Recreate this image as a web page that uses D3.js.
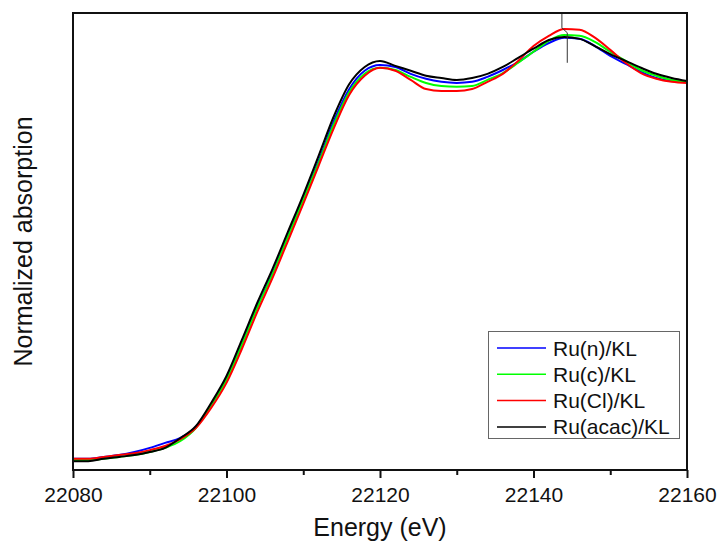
<!DOCTYPE html>
<html>
<head>
<meta charset="utf-8">
<script src="https://cdn.jsdelivr.net/npm/d3@7"></script>
<style>
    body { margin: 0; background: #fff; }
    svg { font-family: Arial, "Liberation Sans", sans-serif; }
</style>
</head>
<body>
<script>
//energy grid (eV)
var energies = [22080, 22082, 22084, 22086, 22088, 22090, 22092, 22094, 22096, 22098,
    22100, 22102, 22104, 22106, 22108, 22110, 22112, 22114, 22116, 22118,
    22120, 22122, 22124, 22126, 22128, 22130, 22132, 22134, 22136, 22138,
    22140, 22142, 22144, 22146, 22148, 22150, 22152, 22154, 22156, 22158, 22160];

//normalized absorption for each sample
var ruN = [0.003, 0.003, 0.008, 0.013, 0.021, 0.032, 0.045, 0.058, 0.087, 0.145,
    0.213, 0.305, 0.403, 0.492, 0.589, 0.687, 0.787, 0.892, 0.976, 1.024,
    1.039, 1.034, 1.016, 1.003, 0.995, 0.992, 0.995, 1.008, 1.026, 1.047,
    1.074, 1.097, 1.111, 1.108, 1.089, 1.063, 1.042, 1.021, 1.005, 0.997, 0.995];
var ruC = [0.000, 0.000, 0.003, 0.008, 0.013, 0.021, 0.032, 0.050, 0.084, 0.145,
    0.211, 0.303, 0.400, 0.489, 0.587, 0.684, 0.782, 0.884, 0.968, 1.016,
    1.032, 1.026, 1.008, 0.992, 0.984, 0.982, 0.984, 1.000, 1.018, 1.045,
    1.074, 1.103, 1.118, 1.116, 1.100, 1.074, 1.050, 1.026, 1.011, 1.000, 0.995];
var ruCl = [0.003, 0.003, 0.008, 0.013, 0.018, 0.026, 0.037, 0.055, 0.084, 0.137,
    0.203, 0.292, 0.389, 0.479, 0.576, 0.674, 0.774, 0.874, 0.961, 1.011,
    1.032, 1.024, 1.000, 0.976, 0.971, 0.971, 0.976, 0.995, 1.016, 1.050,
    1.089, 1.116, 1.134, 1.132, 1.111, 1.079, 1.045, 1.018, 1.003, 0.995, 0.992];
var ruAcac = [-0.003, -0.003, 0.003, 0.008, 0.013, 0.021, 0.032, 0.058, 0.089, 0.150,
    0.221, 0.316, 0.413, 0.503, 0.600, 0.697, 0.800, 0.905, 0.989, 1.034,
    1.050, 1.037, 1.024, 1.011, 1.005, 1.000, 1.005, 1.016, 1.034, 1.058,
    1.082, 1.105, 1.113, 1.108, 1.089, 1.068, 1.050, 1.032, 1.016, 1.005, 0.997];

var seriesNames = ["Ru(n)/KL", "Ru(c)/KL", "Ru(Cl)/KL", "Ru(acac)/KL"];
var seriesColors = ["#0000ff", "#00ff00", "#ff0000", "#000000"];
var seriesValues = [ruN, ruC, ruCl, ruAcac];

//peak marker drawn on the plot
var markerE = [22143.7, 22143.7, 22144.4, 22144.4];
var markerY = [1.176, 1.137, 1.124, 1.045];

var xTicks = [22080, 22100, 22120, 22140, 22160];
var xMinorTicks = [22090, 22110, 22130, 22150];

window.onload = setChart();

function setChart(){
    var width = 718,
        height = 549,
        left = 73,
        right = 687,
        top = 13,
        bottom = 470;

    var svg = d3.select("body")
        .append("svg")
        .attr("width", width)
        .attr("height", height);

    var x = d3.scaleLinear()
        .domain([22080, 22160])
        .range([left, right]);

    var y = d3.scaleLinear()
        .domain([-0.0263, 1.176])
        .range([bottom, top]);

    //minor ticks
    var minorAxis = svg.append("g")
        .attr("transform", "translate(0," + bottom + ")")
        .call(d3.axisBottom(x).tickValues(xMinorTicks).tickSize(5).tickFormat(""));
    minorAxis.select(".domain").remove();

    //major ticks and labels
    var xAxis = svg.append("g")
        .attr("class", "axis")
        .attr("transform", "translate(0," + bottom + ")")
        .call(d3.axisBottom(x).tickValues(xTicks).tickSize(8).tickFormat(d3.format("d")));
    xAxis.select(".domain").remove();
    xAxis.selectAll("text")
        .attr("dy", null)
        .attr("y", 32)
        .style("font-size", "21px")
        .style("font-family", "Arial, 'Liberation Sans', sans-serif")
        .attr("fill", "#111");
    svg.selectAll(".tick line").attr("stroke", "#111").attr("stroke-width", 2);

    //lines
    var line = d3.line()
        .x(function(d){ return x(d[0]); })
        .y(function(d){ return y(d[1]); })
        .curve(d3.curveMonotoneX);

    seriesValues.forEach(function(vals, i){
        var pts = energies.map(function(e, j){ return [e, vals[j]]; });
        svg.append("path")
            .datum(pts)
            .attr("fill", "none")
            .attr("stroke", seriesColors[i])
            .attr("stroke-width", 2)
            .attr("stroke-linejoin", "round")
            .attr("d", line);
    });

    //peak marker
    var markerLine = d3.line()
        .x(function(d){ return x(d[0]); })
        .y(function(d){ return y(d[1]); });
    svg.append("path")
        .datum(markerE.map(function(e, j){ return [e, markerY[j]]; }))
        .attr("fill", "none")
        .attr("stroke", "#333")
        .attr("stroke-width", 1)
        .attr("d", markerLine);

    //frame
    svg.append("rect")
        .attr("x", left)
        .attr("y", top)
        .attr("width", right - left)
        .attr("height", bottom - top)
        .attr("fill", "none")
        .attr("stroke", "#111")
        .attr("stroke-width", 2);

    //axis titles
    svg.append("text")
        .attr("x", (left + right) / 2)
        .attr("y", 536)
        .attr("text-anchor", "middle")
        .style("font-size", "25px")
        .attr("fill", "#111")
        .text("Energy (eV)");

    svg.append("text")
        .attr("transform", "translate(32," + (top + bottom) / 2 + ") rotate(-90)")
        .attr("text-anchor", "middle")
        .style("font-size", "25px")
        .attr("fill", "#111")
        .text("Normalized absorption");

    //legend
    var legend = svg.append("g");
    legend.append("rect")
        .attr("x", 488.5)
        .attr("y", 331.5)
        .attr("width", 191)
        .attr("height", 107)
        .attr("fill", "#fff")
        .attr("stroke", "#666")
        .attr("stroke-width", 1);

    seriesNames.forEach(function(name, i){
        var ly = 348 + i * 26.3;
        legend.append("line")
            .attr("x1", 497)
            .attr("x2", 546)
            .attr("y1", ly)
            .attr("y2", ly)
            .attr("stroke", seriesColors[i])
            .attr("stroke-width", 1.5);
        legend.append("text")
            .attr("x", 553)
            .attr("y", ly + 7.5)
            .style("font-size", "21px")
            .attr("fill", "#111")
            .text(name);
    });
};
</script>
</body>
</html>
